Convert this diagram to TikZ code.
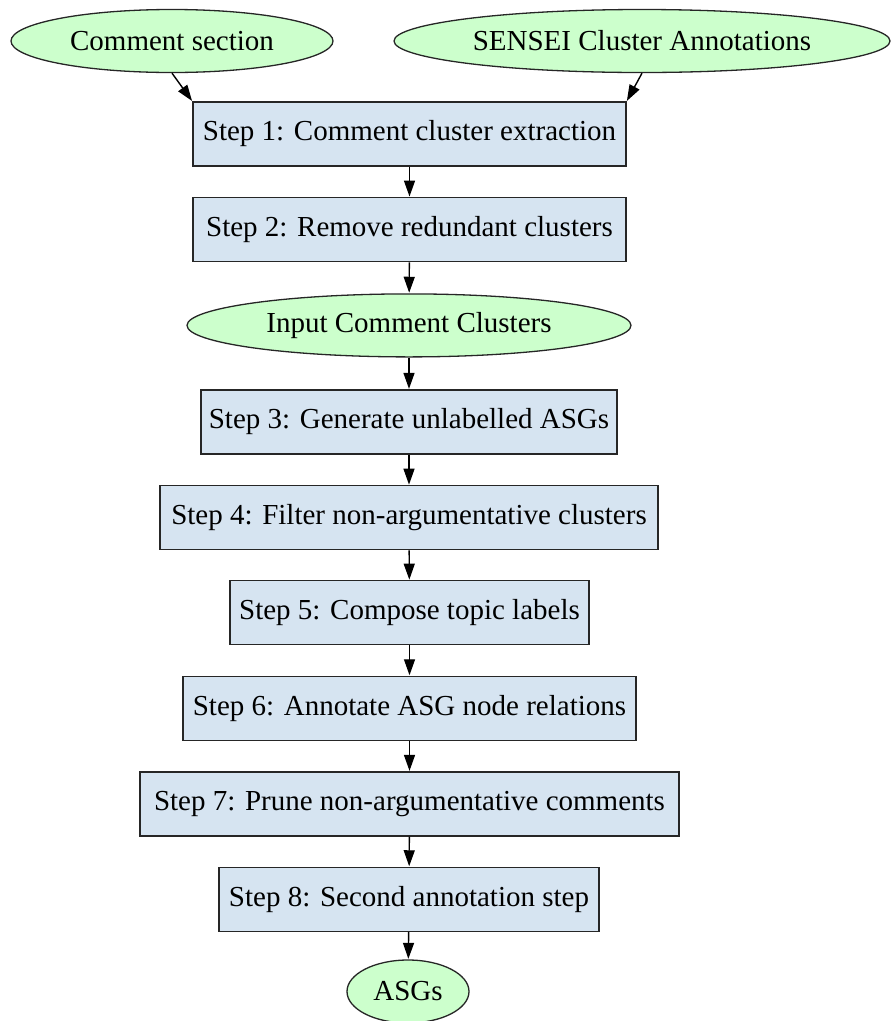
\documentclass[tikz,border=0pt]{standalone}
\usepackage{fontspec}
\setmainfont{Liberation Serif}
\usetikzlibrary{shapes.geometric,arrows.meta}
\definecolor{ellfill}{HTML}{CCFFCC}
\definecolor{boxfill}{HTML}{D6E4F1}
\definecolor{edgecol}{HTML}{262626}
\tikzset{
  base/.style={draw=edgecol, line width=1.3pt, inner sep=0pt, font=\fontsize{29}{34}\selectfont, text=black},
  datanode/.style={base, ellipse, fill=ellfill, minimum height=63pt},
  stepbox/.style={base, rectangle, fill=boxfill, minimum height=64pt},
  flow/.style={draw=black, line width=1.4pt, -{Triangle[length=16pt,width=11pt]}, shorten >=0.5pt}
}
\begin{document}
\begin{tikzpicture}[x=1pt,y=-1pt]
\useasboundingbox (0,0) rectangle (891,1021);
\node[datanode, minimum width=322pt] (cs) at (172,41) {Comment section};
\node[datanode, minimum width=496pt] (sa) at (642,41) {SENSEI Cluster Annotations};
\node[stepbox, minimum width=433pt] (s1) at (409.5,134) {Step 1: Comment cluster extraction};
\node[stepbox, minimum width=433pt] (s2) at (409.5,229.7) {Step 2: Remove redundant clusters};
\node[datanode, minimum width=444pt] (icc) at (409,325.4) {Input Comment Clusters};
\node[stepbox, minimum width=416pt] (s3) at (409,422) {Step 3: Generate unlabelled ASGs};
\node[stepbox, minimum width=498pt] (s4) at (409,517.8) {Step 4: Filter non-argumentative clusters};
\node[stepbox, minimum width=359pt] (s5) at (409.5,612.8) {Step 5: Compose topic labels};
\node[stepbox, minimum width=453pt] (s6) at (409.5,708.4) {Step 6: Annotate ASG node relations};
\node[stepbox, minimum width=539pt] (s7) at (409.5,804) {Step 7: Prune non-argumentative comments};
\node[stepbox, minimum width=380pt] (s8) at (409,899.4) {Step 8: Second annotation step};
\node[datanode, minimum width=122pt] (asg) at (408,991.5) {ASGs};
\draw[flow] (cs.south) -- (s1.north west);
\draw[flow] (sa.south) -- (s1.north east);
\draw[flow] (s1) -- (s2);
\draw[flow] (s2) -- (icc);
\draw[flow] (icc) -- (s3);
\draw[flow] (s3) -- (s4);
\draw[flow] (s4) -- (s5);
\draw[flow] (s5) -- (s6);
\draw[flow] (s6) -- (s7);
\draw[flow] (s7) -- (s8);
\draw[flow] (s8) -- (asg);
\end{tikzpicture}
\end{document}
